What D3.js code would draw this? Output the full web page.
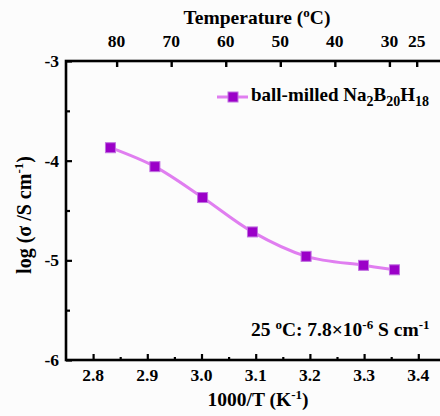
<!DOCTYPE html>
<html>
<head>
<meta charset="utf-8">
<script src="https://cdn.jsdelivr.net/npm/d3@7"></script>
<style>
  body { margin: 0; background: #fcfcfc; }
  svg { display: block; }
</style>
</head>
<body>
<svg id="chart" width="440" height="416"></svg>
<script>
// data
var invT = [2.832, 2.914, 3.002, 3.094, 3.193, 3.299, 3.356];
var logSigma = [-3.87, -4.06, -4.37, -4.715, -4.96, -5.05, -5.095];
var xTicks = [2.8, 2.9, 3.0, 3.1, 3.2, 3.3, 3.4];
var yTicks = [-3, -4, -5, -6];
var tempTicks = [80, 70, 60, 50, 40, 30, 25];

var FONT = "'Liberation Serif', 'Times New Roman', Times, serif";

var svg = d3.select("#chart");

var margins = { top: 61, left: 66, bottom: 56 };
var width = 379.4;   // right frame falls just outside the window
var height = 416 - margins.top - margins.bottom;

var x = d3.scaleLinear().domain([2.75, 3.45]).range([margins.left, margins.left + width]);
var y = d3.scaleLinear().domain([-3, -6]).range([margins.top, margins.top + height]);
// the top axis in the original is spaced evenly in °C
var t = d3.scaleLinear().domain([80, 25]).range([x(2.8434), x(3.397)]);

var g = svg.append("g");

// frame
g.append("rect")
    .attr("x", x(2.75))
    .attr("y", y(-3))
    .attr("width", x(3.45) - x(2.75))
    .attr("height", y(-6) - y(-3))
    .attr("fill", "none")
    .attr("stroke", "#000")
    .attr("stroke-width", 2.6);

// strip d3's default axis styling
function plain(sel) {
    sel.attr("fill", null).attr("font-family", null).attr("font-size", null);
    sel.select(".domain").remove();
}

// bottom axis, ticks pointing in
var bottomAxis = g.append("g").attr("transform", "translate(0," + y(-6) + ")");
bottomAxis.call(d3.axisBottom(x).tickValues(d3.range(2.8, 3.45, 0.05)).tickSize(-5).tickFormat(""));
bottomAxis.selectAll(".tick line")
    .attr("stroke-width", 2.2)
    .attr("y2", (d, i) => i % 2 ? -3 : -6);
plain(bottomAxis);
bottomAxis.selectAll(".label")
    .data(xTicks)
    .enter().append("text")
    .attr("x", d => x(d))
    .attr("y", 21)
    .attr("text-anchor", "middle")
    .style("font-size", "17.5px")
    .text(d => d.toFixed(1));

// left axis
var leftAxis = g.append("g").attr("transform", "translate(" + x(2.75) + ",0)");
leftAxis.call(d3.axisLeft(y).tickValues(d3.range(-3, -6.01, -0.5)).tickSize(-5).tickFormat(""));
leftAxis.selectAll(".tick line")
    .attr("stroke-width", 2.2)
    .attr("x2", (d, i) => i % 2 ? 4 : 6);
plain(leftAxis);
leftAxis.selectAll(".label")
    .data(yTicks)
    .enter().append("text")
    .attr("x", -7)
    .attr("y", d => y(d) + 6)
    .attr("text-anchor", "end")
    .style("font-size", "17.5px")
    .text(d => d);

// top axis (temperature)
var topAxis = g.append("g").attr("transform", "translate(0," + y(-3) + ")");
topAxis.call(d3.axisTop(t).tickValues(tempTicks).tickSize(-6).tickFormat(""));
topAxis.selectAll(".tick line").attr("stroke-width", 2.4);
plain(topAxis);
topAxis.selectAll(".label")
    .data(tempTicks)
    .enter().append("text")
    .attr("x", d => t(d))
    .attr("y", -14)
    .attr("text-anchor", "middle")
    .style("font-size", "17.5px")
    .text(d => d);

// axis titles
var tt = svg.append("text")
    .attr("x", 257)
    .attr("y", 24)
    .attr("text-anchor", "middle")
    .style("font-size", "19.5px");
tt.append("tspan").text("Temperature (");
tt.append("tspan").attr("dy", -7).style("font-size", "13px").text("o");
tt.append("tspan").attr("dy", 7).text("C)");

var bt = svg.append("text")
    .attr("x", 258)
    .attr("y", 406)
    .attr("text-anchor", "middle")
    .style("font-size", "19.5px");
bt.append("tspan").text("1000/T (K");
bt.append("tspan").attr("dy", -7).style("font-size", "13px").text("-1");
bt.append("tspan").attr("dy", 7).text(")");

var lt = svg.append("text")
    .attr("transform", "translate(31,215) rotate(-90)")
    .attr("text-anchor", "middle")
    .style("font-size", "20px");
lt.append("tspan").text("log (σ /S cm");
lt.append("tspan").attr("dy", -8).style("font-size", "13px").text("-1");
lt.append("tspan").attr("dy", 8).text(")");

// data line + markers
var pts = invT.map((d, i) => [d, logSigma[i]]);
var line = d3.line()
    .x(d => x(d[0]))
    .y(d => y(d[1]))
    .curve(d3.curveCatmullRom);

g.append("path")
    .datum(pts)
    .attr("d", line)
    .attr("fill", "none")
    .attr("stroke", "#e07ef0")
    .attr("stroke-width", 3);

var ms = 10;
g.selectAll(".pt")
    .data(pts)
    .enter().append("rect")
    .attr("class", "pt")
    .attr("x", d => x(d[0]) - ms / 2)
    .attr("y", d => y(d[1]) - ms / 2)
    .attr("width", ms)
    .attr("height", ms)
    .attr("fill", "#9b00c8")
    .attr("stroke", "#c070e0")
    .attr("stroke-width", 1);

// legend
var ly = 97;
svg.append("line")
    .attr("x1", 217).attr("x2", 248)
    .attr("y1", ly).attr("y2", ly)
    .attr("stroke", "#e07ef0")
    .attr("stroke-width", 3);
svg.append("rect")
    .attr("x", 233 - ms / 2).attr("y", ly - ms / 2)
    .attr("width", ms).attr("height", ms)
    .attr("fill", "#9b00c8")
    .attr("stroke", "#c070e0");
var leg = svg.append("text")
    .attr("x", 251)
    .attr("y", 101)
    .style("font-size", "19px");
leg.append("tspan").text("ball-milled Na");
leg.append("tspan").attr("dy", 5).style("font-size", "14px").text("2");
leg.append("tspan").attr("dy", -5).text("B");
leg.append("tspan").attr("dy", 5).style("font-size", "14px").text("20");
leg.append("tspan").attr("dy", -5).text("H");
leg.append("tspan").attr("dy", 5).style("font-size", "14px").text("18");

// annotation
var an = svg.append("text")
    .attr("x", 251)
    .attr("y", 336)
    .style("font-size", "19.5px");
an.append("tspan").text("25 ");
an.append("tspan").attr("dy", -7).style("font-size", "13px").text("o");
an.append("tspan").attr("dy", 7).text("C: 7.8×10");
an.append("tspan").attr("dy", -7).style("font-size", "13px").text("-6");
an.append("tspan").attr("dy", 7).text(" S cm");
an.append("tspan").attr("dy", -7).style("font-size", "13px").text("-1");

// bold serif everywhere
svg.selectAll("text")
    .style("font-family", FONT)
    .style("font-weight", "bold")
    .attr("fill", "#000");
</script>
</body>
</html>
